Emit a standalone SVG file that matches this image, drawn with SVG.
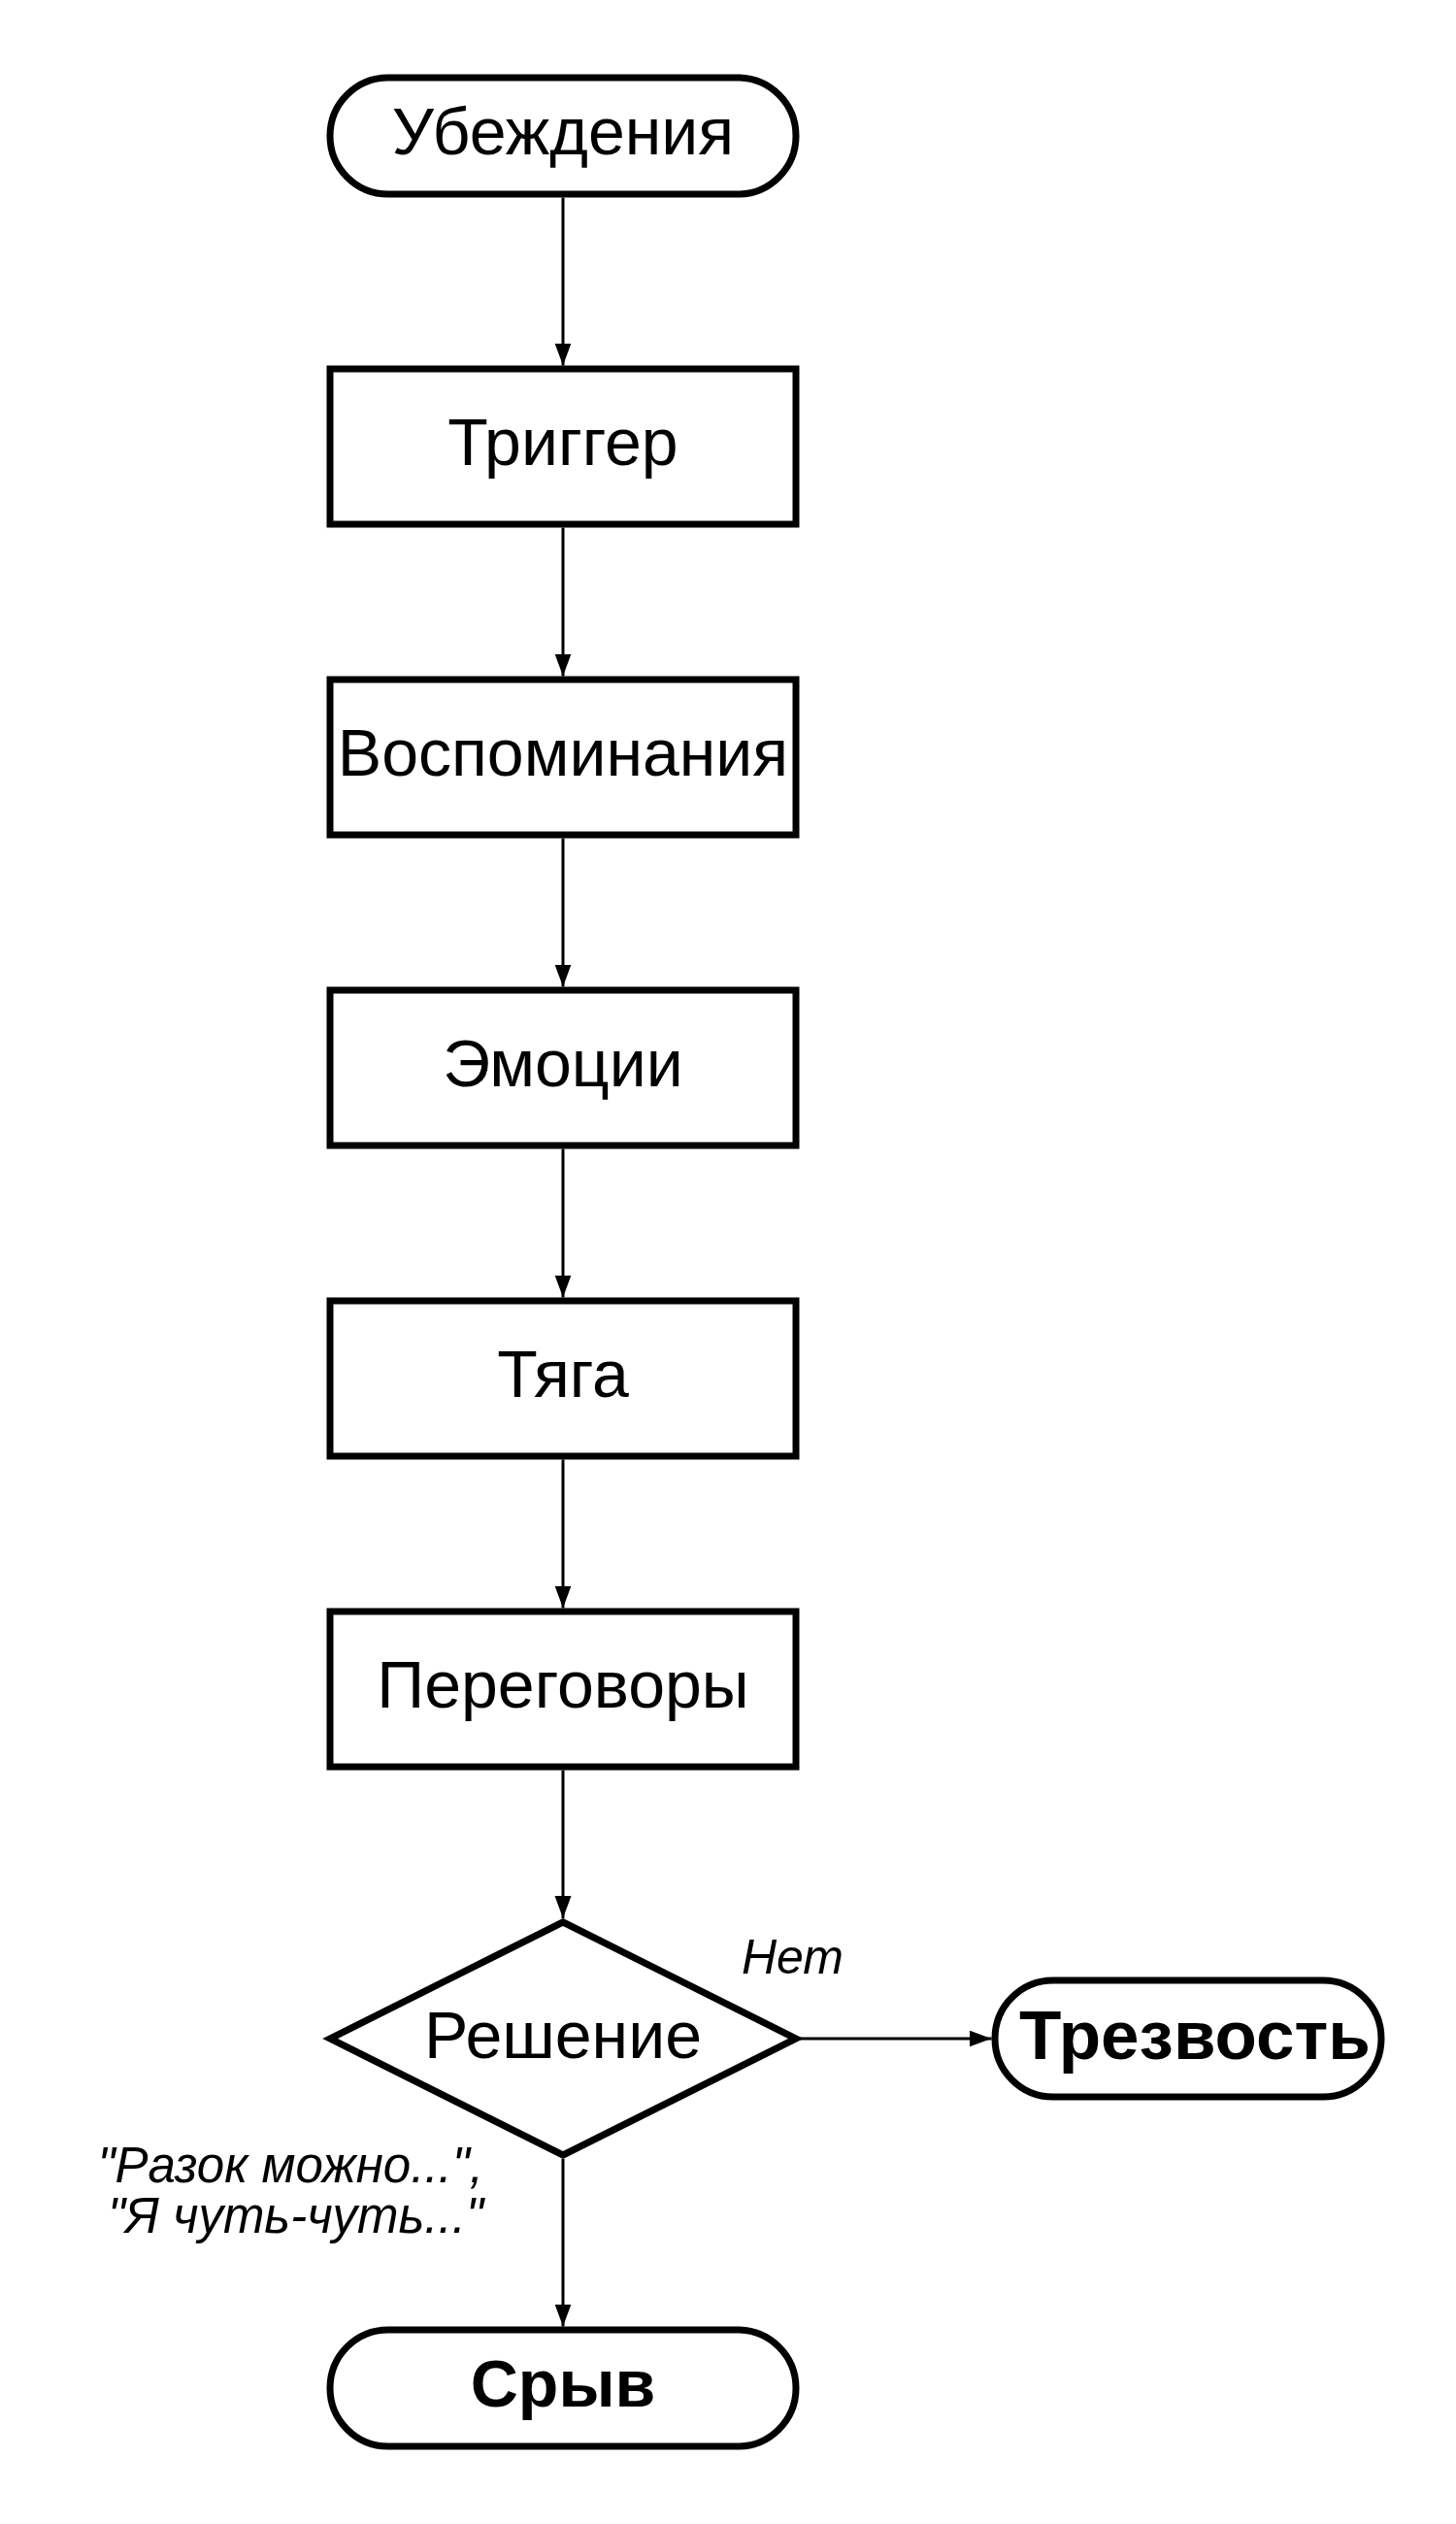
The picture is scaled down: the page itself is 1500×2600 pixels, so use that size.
<svg xmlns="http://www.w3.org/2000/svg" width="1500" height="2600" viewBox="0 0 1500 2600">
<style>
.shape{fill:#fff;stroke:#000;stroke-width:7}
.lbl{font-family:"Liberation Sans",Arial,sans-serif;font-size:68px;fill:#000;text-anchor:middle}
.bold{font-weight:bold}
.edge{stroke:#000;stroke-width:3;fill:none;marker-end:url(#arr)}
.note{font-family:"Liberation Sans",Arial,sans-serif;font-size:51px;font-style:italic;fill:#000}
</style>
<defs>
<marker id="arr" markerUnits="userSpaceOnUse" markerWidth="24" markerHeight="18" refX="23" refY="8.5" orient="auto">
<path d="M0,0 L23,8.5 L0,17 z" fill="#000"/>
</marker>
</defs>
<rect width="1500" height="2600" fill="#fff"/>
<g id="connectors">
<line class="edge" x1="580" y1="203.5" x2="580" y2="376.5"/>
<line class="edge" x1="580" y1="543.5" x2="580" y2="696.5"/>
<line class="edge" x1="580" y1="863.5" x2="580" y2="1016.5"/>
<line class="edge" x1="580" y1="1183.5" x2="580" y2="1336.5"/>
<line class="edge" x1="580" y1="1503.5" x2="580" y2="1656.5"/>
<line class="edge" x1="580" y1="1823.5" x2="580" y2="1976"/>
<line class="edge" x1="580" y1="2224" x2="580" y2="2396.5"/>
<line class="edge" x1="824" y1="2100" x2="1021.5" y2="2100"/>
<text class="note" style="font-size:50px" x="764" y="2033">Нет</text>
<text class="note" text-anchor="end" x="498" y="2248">"Разок можно...",</text>
<text class="note" text-anchor="end" x="498" y="2300">"Я чуть-чуть..."</text>
</g>
<g id="n-ubezhdeniya">
<rect class="shape" x="340" y="80" width="480" height="120" rx="60" ry="60"/>
<text class="lbl" x="580" y="159">Убеждения</text>
</g>
<g id="n-trigger">
<rect class="shape" x="340" y="380" width="480" height="160"/>
<text class="lbl" x="580" y="479">Триггер</text>
</g>
<g id="n-vospominaniya">
<rect class="shape" x="340" y="700" width="480" height="160"/>
<text class="lbl" x="580" y="799">Воспоминания</text>
</g>
<g id="n-emocii">
<rect class="shape" x="340" y="1020" width="480" height="160"/>
<text class="lbl" x="580" y="1119">Эмоции</text>
</g>
<g id="n-tyaga">
<rect class="shape" x="340" y="1340" width="480" height="160"/>
<text class="lbl" x="580" y="1439">Тяга</text>
</g>
<g id="n-peregovory">
<rect class="shape" x="340" y="1660" width="480" height="160"/>
<text class="lbl" x="580" y="1759">Переговоры</text>
</g>
<g id="n-reshenie">
<polygon class="shape" points="580,1980 820,2100 580,2220 340,2100"/>
<text class="lbl" x="580" y="2120">Решение</text>
</g>
<g id="n-trezvost">
<rect class="shape" x="1025" y="2040" width="398" height="120" rx="60" ry="60"/>
<text class="lbl bold" style="font-size:71px" x="1231" y="2121">Трезвость</text>
</g>
<g id="n-sryv">
<rect class="shape" x="340" y="2400" width="480" height="120" rx="60" ry="60"/>
<text class="lbl bold" x="580" y="2479">Срыв</text>
</g>
</svg>
